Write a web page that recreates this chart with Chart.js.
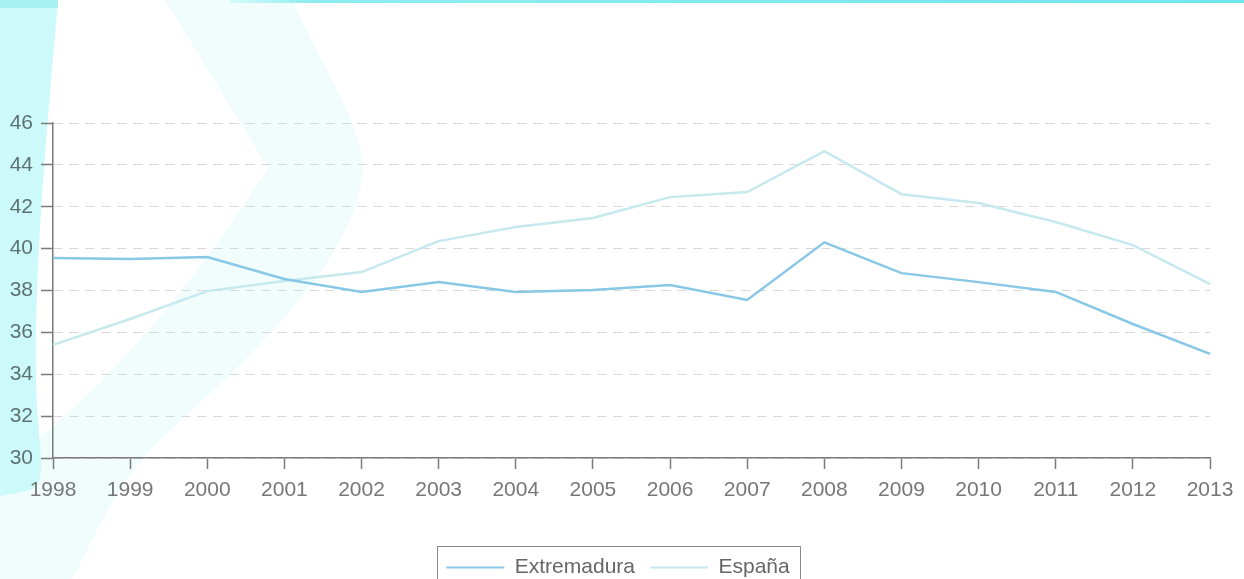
<!DOCTYPE html>
<html>
<head>
<meta charset="utf-8">
<script src="https://cdn.jsdelivr.net/npm/chart.js@4.4.1/dist/chart.umd.min.js"></script>
<style>
html,body{margin:0;padding:0;overflow:hidden;background:#fff;width:1244px;height:579px;}
canvas{display:block;}
</style>
</head>
<body>
<canvas id="c" width="1244" height="588"></canvas>
<script>
const categories = ['1998','1999','2000','2001','2002','2003','2004','2005','2006','2007','2008','2009','2010','2011','2012','2013'];
const extremadura = [39.55,39.5,39.6,38.55,37.93,38.4,37.93,38.02,38.26,37.55,40.3,38.83,38.4,37.93,36.4,34.97];
const espana = [35.4,36.64,37.97,38.45,38.88,40.36,41.03,41.46,42.46,42.7,44.66,42.6,42.18,41.27,40.17,38.31];
const seriesNames = ['Extremadura','España'];
const yTicks = {min:30, max:46, step:2};

const FONT = "'Liberation Sans', Arial, sans-serif";

const backgroundPlugin = {
  id:'bg',
  beforeDraw(chart){
    const ctx = chart.ctx;
    ctx.save();
    // light swoosh
    ctx.fillStyle = '#f1fdfd';
    ctx.beginPath();
    ctx.moveTo(165,0);
    ctx.lineTo(292,0);
    ctx.bezierCurveTo(330,80,370,140,362,180);
    ctx.bezierCurveTo(350,260,260,350,160,440);
    ctx.bezierCurveTo(110,490,95,540,72,579);
    ctx.lineTo(0,600);
    ctx.lineTo(0,470);
    ctx.bezierCurveTo(90,400,170,320,268,168);
    ctx.closePath();
    ctx.fill();
    // left cyan shape
    ctx.fillStyle = '#ccf9f9';
    ctx.beginPath();
    ctx.moveTo(0,0);
    ctx.lineTo(58,0);
    ctx.bezierCurveTo(48,120,30,300,38,420);
    ctx.bezierCurveTo(42,470,44,485,30,490);
    ctx.bezierCurveTo(18,493,8,494,0,496);
    ctx.closePath();
    ctx.fill();
    ctx.fillStyle = '#a6f2f3';
    ctx.fillRect(0,0,58,8);
    // top line
    const g = ctx.createLinearGradient(230,0,1244,0);
    g.addColorStop(0,'#d6fafa');
    g.addColorStop(0.08,'#8eecf0');
    g.addColorStop(1,'#6fe6ec');
    ctx.fillStyle = g;
    ctx.fillRect(230,0,1014,3);
    ctx.restore();
  }
};

const legendShiftPlugin = {
  id:'legendShift',
  afterLayout(chart){
    const lg = chart.legend;
    if(!lg) return;
    lg.left += 13;
    lg.right += 13;
  }
};

const legendBoxPlugin = {
  id:'legendBox',
  afterDraw(chart){
    const lg = chart.legend;
    if(!lg || !lg.legendHitBoxes || !lg.legendHitBoxes.length) return;
    const hb = lg.legendHitBoxes;
    const first = hb[0], last = hb[hb.length-1];
    const cy = first.top + first.height/2;
    const ctx = chart.ctx;
    ctx.save();
    ctx.strokeStyle = '#8a8a8a';
    ctx.lineWidth = 1;
    const l = Math.round(first.left - 9) + 0.5;
    const r = Math.round(last.left + last.width + 10) + 0.5;
    const t = Math.round(cy - 22) + 0.5;
    ctx.strokeRect(l, t, r - l, 44);
    ctx.restore();
  }
};

new Chart(document.getElementById('c'), {
  type:'line',
  data:{
    labels: categories,
    datasets:[
      {label: seriesNames[0], data: extremadura, borderColor:'#88c8e6', backgroundColor:'#88c8e6', borderWidth:2.5, pointRadius:0, tension:0, fill:false},
      {label: seriesNames[1], data: espana, borderColor:'#c6e9ef', backgroundColor:'#c6e9ef', borderWidth:2.5, pointRadius:0, tension:0, fill:false}
    ]
  },
  options:{
    responsive:false,
    animation:false,
    layout:{padding:{top:123, right:34, left:0, bottom:0}},
    plugins:{
      tooltip:{enabled:false},
      legend:{
        position:'bottom',
        labels:{
          boxWidth:58, boxHeight:2, padding:15,
          color:'#666', font:{family:FONT, size:21},
          generateLabels(chart){
            const items = Chart.defaults.plugins.legend.labels.generateLabels(chart);
            items.forEach(it=>{ it.fillStyle = it.strokeStyle; it.lineWidth = 0; });
            return items;
          }
        }
      }
    },
    scales:{
      x:{
        type:'category',
        offset:false,
        grid:{drawOnChartArea:false, tickLength:11, tickColor:'#7a7a7a', tickWidth:1.5},
        border:{color:'#7a7a7a', width:1.5},
        ticks:{color:'#777', font:{family:FONT, size:21}, padding:9, maxRotation:0, autoSkip:false},
        afterFit(scale){
          const c = scale.chart;
          scale.height = c.height - c.legend.height - 458;
        }
      },
      y:{
        min:yTicks.min, max:yTicks.max,
        grid:{color:'#d9d9d9', lineWidth:1, tickLength:12, tickColor:'#7a7a7a', tickWidth:1.5, tickBorderDash:[]},
        border:{color:'#7a7a7a', width:1.5, dash:[9,7]},
        ticks:{stepSize:yTicks.step, color:'#5e7272', font:{family:FONT, size:21}, padding:8},
        afterFit(scale){ scale.width = 53; }
      }
    }
  },
  plugins:[backgroundPlugin, legendShiftPlugin, legendBoxPlugin]
});
</script>
</body>
</html>
